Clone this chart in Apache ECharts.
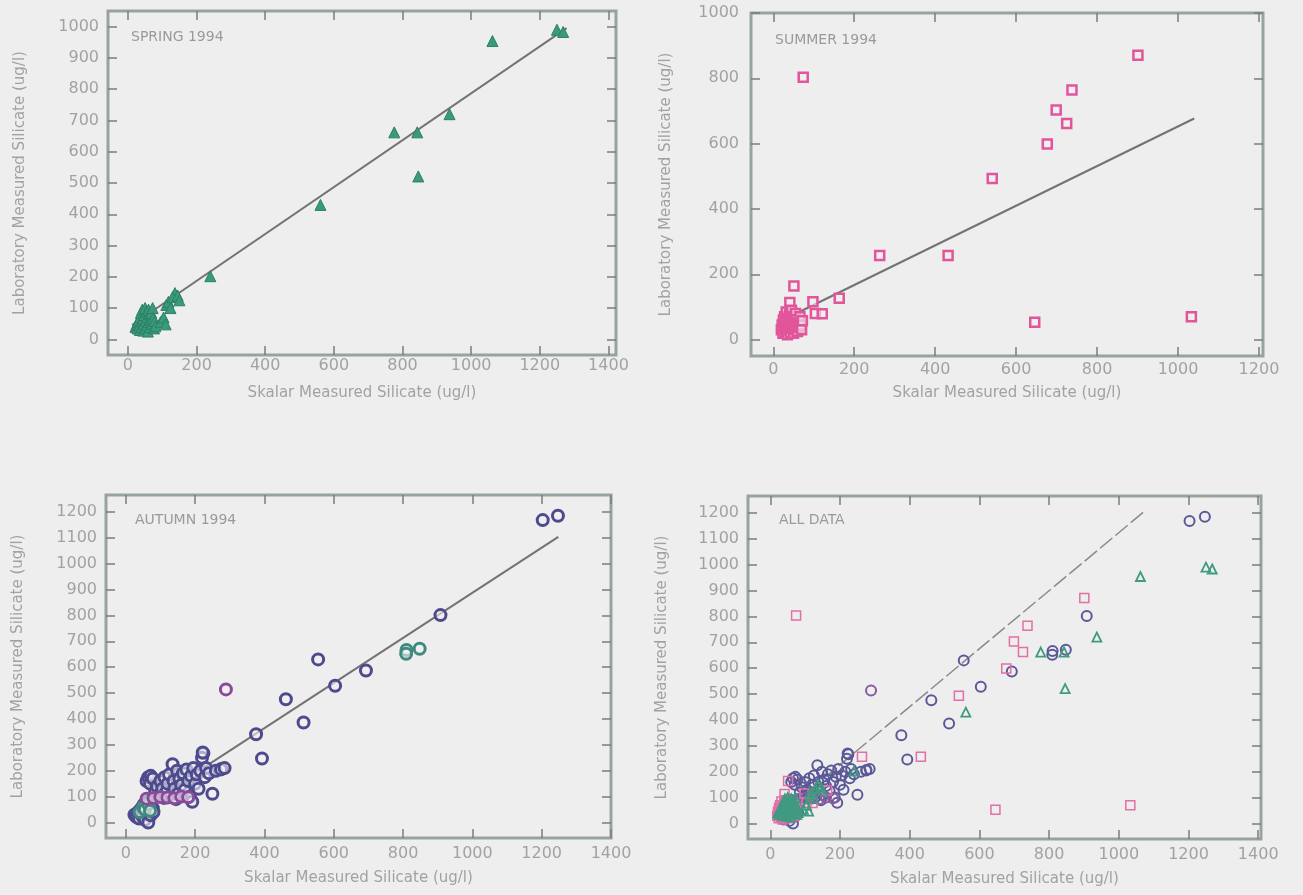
<!DOCTYPE html>
<html><head><meta charset="utf-8">
<script src="https://cdn.jsdelivr.net/npm/echarts@6/dist/echarts.min.js"></script>
<style>html,body{margin:0;padding:0;background:#eeeeee;}#c{width:1303px;height:895px;}</style>
</head><body><div id="c"></div>
<script>
// ---- text ----
const panelTitles = ['SPRING 1994', 'SUMMER 1994', 'AUTUMN 1994', 'ALL DATA'];
const xAxisTitle = 'Skalar Measured Silicate (ug/l)';
const yAxisTitle = 'Laboratory Measured Silicate (ug/l)';

// ---- data: [Skalar, Laboratory] ----
const springPoints = [
  [1250,990],[1268,983],[1062,954],[776,662],[843,662],[937,720],[846,521],[561,430],[240,202],[137,148],
  [22,40],[25,48],[28,35],[30,55],[32,62],[34,45],[35,30],[36,72],[38,85],[40,58],[40,40],[42,95],
  [44,66],[45,28],[46,50],[48,78],[50,100],[50,36],[52,60],[54,88],[55,45],[56,70],[58,25],[60,95],
  [60,55],[62,80],[64,40],[66,62],[68,85],[70,50],[72,100],[74,68],[76,35],[78,58],[80,42],
  [95,55],[104,70],[110,48],[112,110],[118,120],[124,100],[130,135],[145,140],[150,125]
];
const summerPoints = [
  [74,803],[901,871],[738,764],[699,703],[725,662],[677,599],[541,493],[263,258],[432,258],[163,127],
  [646,53],[1033,70],[51,164],[98,116],[104,80],[121,79],[41,114],
  [20,30],[22,45],[24,20],[25,60],[27,38],[28,70],[30,25],[30,52],[32,85],[34,40],[35,15],[36,65],
  [38,30],[40,50],[40,78],[42,22],[44,58],[45,90],[46,35],[48,45],[50,70],[50,20],[52,55],[54,30],
  [55,80],[57,42],[58,62],[60,25],[62,50],[64,38],[66,70],[68,45],[70,30],[72,58]
];
const autumnPoints = [
  [1203,1168],[1247,1185],[908,801],[693,587],[604,528],[555,630],[462,476],[513,386],[376,341],[393,247],
  [250,111],[276,207],[224,267],
  [25,30],[30,22],[35,40],[38,15],[42,35],[45,55],[48,25],[52,70],[55,10],[58,60],[60,35],
  [62,80],[65,0],[66,50],[72,28],[75,88],[78,55],[80,40],
  [60,160],[65,175],[70,150],[72,180],[78,170],[85,120],[90,140],[95,105],[100,160],[105,130],
  [110,95],[112,175],[118,120],[120,150],[125,185],[128,100],[135,225],[138,160],[140,130],[145,90],
  [148,200],[150,110],[155,170],[160,145],[165,190],[170,125],[175,205],[180,160],[185,100],[188,180],
  [192,80],[195,210],[200,150],[205,185],[210,130],[215,200],[220,250],[222,270],[228,175],[232,210],
  [240,190],[260,200],[275,205],[285,210]
];
const autumnTealPoints = [[810,666],[809,652],[848,671],[40,40],[50,60],[55,50],[65,70],[70,45]];
const autumnPurplePoints = [[289,514],[60,92],[80,95],[100,98],[120,96],[140,94],[160,100],[180,97]];

// ---- regression lines (end points) ----
const springFit = [[12,46],[1278,995]];
const summerFit = [[30,64],[1040,677]];
const autumnFit = [[30,42],[1248,1103]];
const allFit = [[20,25],[1071,1203]];

// ---- ticks ----
const xTicks1400 = [0,200,400,600,800,1000,1200,1400];
const xTicks1200 = [0,200,400,600,800,1000,1200];
const yTicks1000by100 = [0,100,200,300,400,500,600,700,800,900,1000];
const yTicks1000by200 = [0,200,400,600,800,1000];
const yTicks1200 = [0,100,200,300,400,500,600,700,800,900,1000,1100,1200];

// ---- layout ----
const TXT = '#a2a2a2';
const FONT = 'DejaVu Sans';
const panels = [
  {grid:{left:108,top:11,width:508,height:344}, x:[-58,1422], y:[-50,1050], xt:xTicks1400, yt:yTicks1000by100, xm:3, ym:9, xg:31, yg:80, title:[131,30]},
  {grid:{left:751,top:13,width:512,height:343}, x:[-55,1210], y:[-50,1000], xt:xTicks1200, yt:yTicks1000by200, xm:6, ym:12, xg:30, yg:77, title:[775,33]},
  {grid:{left:106,top:495,width:505,height:343}, x:[-57,1400], y:[-60,1265], xt:xTicks1400, yt:yTicks1200, xm:8, ym:9, xg:33, yg:80, title:[135,513]},
  {grid:{left:748,top:496,width:513,height:343}, x:[-64,1408], y:[-60,1265], xt:xTicks1400, yt:yTicks1200, xm:8, ym:9, xg:33, yg:78, title:[779,513]}
];
const plain = v => String(v);
function tickOf(values) {
  return {show:true, inside:true, length:9, customValues:values.slice(), lineStyle:{color:'#7c7c7c', width:1.5}};
}

const grids = [], xAxes = [], yAxes = [], titles = [];
panels.forEach((p, i) => {
  grids.push(Object.assign({show:true, borderColor:'#98a39c', borderWidth:3, backgroundColor:'transparent'}, p.grid));
  xAxes.push({gridIndex:i, type:'value', min:p.x[0], max:p.x[1], position:'bottom',
    axisLine:{show:false, onZero:false}, splitLine:{show:false},
    axisTick:tickOf(p.xt),
    axisLabel:{customValues:p.xt.slice(), formatter:plain, color:TXT, fontSize:16, fontFamily:FONT, margin:p.xm},
    name:xAxisTitle, nameLocation:'middle', nameGap:p.xg,
    nameTextStyle:{color:TXT, fontSize:15, fontFamily:FONT}});
  xAxes.push({gridIndex:i, type:'value', min:p.x[0], max:p.x[1], position:'top',
    axisLine:{show:false, onZero:false}, splitLine:{show:false},
    axisLabel:{show:false, customValues:p.xt.slice()},
    axisTick:tickOf(p.xt)});
  yAxes.push({gridIndex:i, type:'value', min:p.y[0], max:p.y[1], position:'left',
    axisLine:{show:false, onZero:false}, splitLine:{show:false},
    axisTick:tickOf(p.yt),
    axisLabel:{customValues:p.yt.slice(), formatter:plain, color:TXT, fontSize:16, fontFamily:FONT, margin:p.ym},
    name:yAxisTitle, nameLocation:'middle', nameGap:p.yg,
    nameTextStyle:{color:TXT, fontSize:15, fontFamily:FONT}});
  yAxes.push({gridIndex:i, type:'value', min:p.y[0], max:p.y[1], position:'right',
    axisLine:{show:false, onZero:false}, splitLine:{show:false},
    axisLabel:{show:false, customValues:p.yt.slice()},
    axisTick:tickOf(p.yt)});
  titles.push({text:panelTitles[i], left:p.title[0], top:p.title[1], padding:0,
    textStyle:{color:'#9a9a9a', fontSize:14, fontWeight:'normal', fontFamily:FONT}});
});

function fit(i, data, color, width, type) {
  return {type:'line', xAxisIndex:2*i, yAxisIndex:2*i, data:data, showSymbol:false, symbol:'none',
    lineStyle:{color:color, width:width, type:type||'solid'}, z:1, silent:true};
}
function pts(i, data, symbol, size, fill, border, bw) {
  return {type:'scatter', xAxisIndex:2*i, yAxisIndex:2*i, data:data, symbol:symbol, symbolSize:size,
    itemStyle:{color:fill, borderColor:border, borderWidth:bw, opacity:1}, z:2, silent:true};
}
const GREEN = '#3a9a7c', PINK = '#e2559a', NAVY = '#4d4a8e', TEAL = '#3f8a80', PURPLE = '#8a4a9c';
const HOLLOW = 'rgba(240,240,240,0.6)';

const series = [
  fit(0, springFit, '#737373', 2),
  pts(0, springPoints, 'triangle', 11, GREEN, '#2d7f66', 1),
  fit(1, summerFit, '#737373', 2),
  pts(1, summerPoints, 'rect', 9, HOLLOW, PINK, 2.5),
  fit(2, autumnFit, '#737373', 2),
  pts(2, autumnPoints, 'circle', 11, HOLLOW, NAVY, 3),
  pts(2, autumnTealPoints, 'circle', 11, HOLLOW, TEAL, 3),
  pts(2, autumnPurplePoints, 'circle', 11, HOLLOW, PURPLE, 3),
  fit(3, allFit, '#8a8a8a', 1.5, [16,4]),
  pts(3, autumnPoints, 'circle', 10, 'rgba(0,0,0,0)', '#5a5898', 2),
  pts(3, autumnTealPoints, 'circle', 10, 'rgba(0,0,0,0)', '#5a5898', 2),
  pts(3, autumnPurplePoints, 'circle', 10, 'rgba(0,0,0,0)', '#8a5aa0', 2),
  pts(3, summerPoints, 'rect', 9, 'rgba(0,0,0,0)', '#e26fa6', 1.5),
  pts(3, springPoints, 'triangle', 9, 'rgba(0,0,0,0)', '#3f9a80', 1.8)
];

const chart = echarts.init(document.getElementById('c'), null, {renderer:'canvas'});
chart.setOption({
  backgroundColor:'#eeeeee', animation:false,
  title:titles, grid:grids, xAxis:xAxes, yAxis:yAxes, series:series
});
</script></body></html>
